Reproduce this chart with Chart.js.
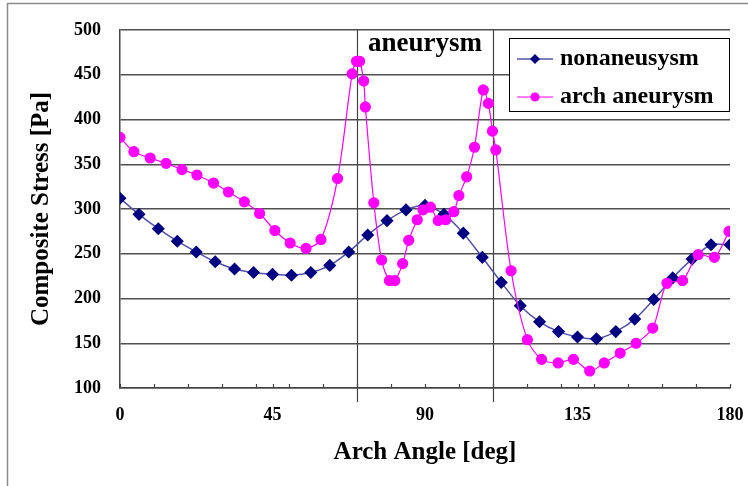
<!DOCTYPE html>
<html>
<head>
<meta charset="utf-8">
<script src="https://cdn.jsdelivr.net/npm/chart.js@4.4.1/dist/chart.umd.min.js"></script>
<style>
  html, body { margin: 0; padding: 0; background: #fff; }
  #wrap { width: 748px; height: 486px; position: relative; }
</style>
</head>
<body>
<div id="wrap"><canvas id="chart" width="748" height="486"></canvas></div>
<script>
// nonaneurysm model: evenly spaced stations along the arch
const nonAngles = [0, 5.6, 11.3, 16.9, 22.5, 28.1, 33.8, 39.4, 45, 50.6, 56.3, 61.9, 67.5,
  73.1, 78.8, 84.4, 90, 95.6, 101.3, 106.9, 112.5, 118.1, 123.8, 129.4, 135, 140.6,
  146.3, 151.9, 157.5, 163.1, 168.8, 174.4, 180];
const nonStress = [312, 294, 278, 264, 252, 241, 233, 229, 227, 226, 229, 237, 252,
  271, 287, 299, 304, 294, 273, 246, 218, 192, 174, 163, 157, 155,
  163, 177, 199, 223, 244, 260, 260];

// arch aneurysm model: denser stations around the bulge
const archAngles = [0, 4.1, 8.9, 13.6, 18.3, 22.7, 27.6, 32, 36.7, 41.2, 45.7, 50.2, 54.9,
  59.3, 64.2, 68.5, 69.8, 70.7, 71.9, 72.4, 74.9, 77.2, 79.5, 81.1, 83.4, 85.2, 87.7,
  89.4, 91.6, 93.9, 96.1, 98.5, 100, 102.3, 104.6, 107.2, 108.7, 109.9, 110.9, 115.4,
  120.2, 124.4, 129.3, 133.8, 138.6, 142.9, 147.6, 152.3, 157.2, 161.4, 166, 170.6,
  175.4, 179.7];
const archStress = [380, 364, 357, 351, 344, 338, 329, 319, 308, 295, 276, 262, 256,
  266, 334, 451, 465, 465, 443, 414, 307, 243, 220, 220, 239, 265, 288,
  299, 302, 287, 288, 297, 315, 336, 369, 433, 418, 387, 366, 231,
  154, 132, 128, 132, 119, 128, 139, 150, 167, 217, 220, 249,
  246, 275];

const xLabels = [0, 45, 90, 135, 180];
const xTickMarks = [0, 10, 20, 30, 40, 45, 50, 60, 70, 80, 90, 100, 110, 120, 130, 135, 140, 150, 160, 170, 180];
const aneurysmBounds = [70, 110];
const aneurysmLabel = 'aneurysm';

const serif = "'Liberation Serif', 'DejaVu Serif', serif";

const toPoints = (xs, ys) => xs.map((x, i) => ({ x: x, y: ys[i] }));

// frame, aneurysm band lines, inward tick marks, legend box
const decor = {
  id: 'decor',
  beforeDraw(chart) {
    const ctx = chart.ctx;
    ctx.save();
    ctx.fillStyle = '#fff';
    ctx.fillRect(0, 0, chart.width, chart.height);
    ctx.strokeStyle = '#8a8a8a';
    ctx.lineWidth = 1.5;
    ctx.beginPath();
    ctx.moveTo(7.5, chart.height + 2);
    ctx.lineTo(7.5, 3.5);
    ctx.lineTo(chart.width + 2, 3.5);
    ctx.stroke();
    ctx.restore();
  },
  beforeDatasetsDraw(chart) {
    const { ctx, chartArea, scales } = chart;
    const xs = scales.x;
    ctx.save();
    ctx.strokeStyle = '#444';
    ctx.lineWidth = 1.2;
    aneurysmBounds.forEach(v => {
      const px = Math.round(xs.getPixelForValue(v)) + 0.5;
      ctx.beginPath();
      ctx.moveTo(px, chartArea.top);
      ctx.lineTo(px, chartArea.bottom + 14);
      ctx.stroke();
    });
    xTickMarks.forEach(v => {
      const px = Math.round(xs.getPixelForValue(v)) + 0.5;
      ctx.beginPath();
      ctx.moveTo(px, chartArea.bottom);
      ctx.lineTo(px, chartArea.bottom - 4);
      ctx.stroke();
    });
    const mid = (xs.getPixelForValue(aneurysmBounds[0]) + xs.getPixelForValue(aneurysmBounds[1])) / 2;
    ctx.fillStyle = '#000';
    ctx.font = 'bold 27px ' + serif;
    ctx.textAlign = 'center';
    ctx.textBaseline = 'middle';
    ctx.fillText(aneurysmLabel, mid, chartArea.top + 14);
    ctx.restore();
  },
  afterDatasetsDraw(chart) {
    const ctx = chart.ctx;
    const box = { x: 509.5, y: 38.5, w: 220, h: 73 };
    ctx.save();
    ctx.fillStyle = '#fff';
    ctx.fillRect(box.x, box.y, box.w, box.h);
    ctx.strokeStyle = '#000';
    ctx.lineWidth = 1;
    ctx.strokeRect(box.x, box.y, box.w, box.h);
    const rows = [59, 97];
    chart.data.datasets.forEach((ds, i) => {
      const y = rows[i];
      ctx.strokeStyle = ds.borderColor;
      ctx.lineWidth = ds.borderWidth;
      ctx.beginPath();
      ctx.moveTo(517, y);
      ctx.lineTo(553, y);
      ctx.stroke();
      ctx.fillStyle = ds.pointBackgroundColor;
      ctx.strokeStyle = ds.pointBorderColor;
      Chart.helpers.drawPoint(ctx, { pointStyle: ds.pointStyle, radius: 4, rotation: 0, borderWidth: 1 }, 535, y);
      ctx.fillStyle = '#000';
      ctx.font = 'bold 24px ' + serif;
      ctx.textAlign = 'left';
      ctx.textBaseline = 'middle';
      ctx.fillText(ds.label, 560, y);
    });
    ctx.restore();
  }
};

new Chart(document.getElementById('chart'), {
  type: 'line',
  data: {
    datasets: [
      {
        label: 'nonaneusysm',
        data: toPoints(nonAngles, nonStress),
        borderColor: '#5252a8',
        borderWidth: 1.5,
        pointStyle: 'rectRot',
        pointRadius: 5.5,
        pointBackgroundColor: '#000080',
        pointBorderColor: '#000080',
        tension: 0.3,
        order: 1
      },
      {
        label: 'arch aneurysm',
        data: toPoints(archAngles, archStress),
        borderColor: '#ff00ff',
        borderWidth: 1.2,
        pointStyle: 'circle',
        pointRadius: 5,
        pointBackgroundColor: '#ff00ff',
        pointBorderColor: '#ff00ff',
        tension: 0.3,
        order: 0
      }
    ]
  },
  options: {
    responsive: false,
    animation: false,
    layout: { padding: { top: 30, right: 18, left: 0, bottom: 0 } },
    plugins: {
      legend: { display: false },
      tooltip: { enabled: false }
    },
    scales: {
      x: {
        type: 'linear',
        min: 0,
        max: 180,
        afterBuildTicks: s => { s.ticks = xTickMarks.map(v => ({ value: v })); },
        afterFit: s => { s.height = 98; s.paddingRight = 0; s.paddingLeft = 0; },
        ticks: {
          autoSkip: false,
          maxRotation: 0,
          padding: 9,
          color: '#000',
          font: { family: serif, size: 18, weight: 'bold' },
          callback: v => xLabels.includes(v) ? String(v) : ''
        },
        grid: { display: false },
        border: { display: true, color: '#444', width: 1.5 },
        title: {
          display: true,
          text: 'Arch Angle [deg]',
          color: '#000',
          font: { family: serif, size: 25, weight: 'bold' },
          padding: { top: 18, bottom: 18 }
        }
      },
      y: {
        min: 100,
        max: 500,
        afterFit: s => { s.width = 120; },
        ticks: {
          stepSize: 50,
          padding: 19,
          color: '#000',
          font: { family: serif, size: 18, weight: 'bold' }
        },
        grid: { color: '#505050', lineWidth: 1.5, drawTicks: false },
        border: { display: true, color: '#444', width: 1.5 },
        title: {
          display: true,
          text: 'Composite Stress [Pa]',
          color: '#000',
          font: { family: serif, size: 25, weight: 'bold' },
          padding: { top: 27, bottom: 27 }
        }
      }
    }
  },
  plugins: [decor]
});
</script>
</body>
</html>
